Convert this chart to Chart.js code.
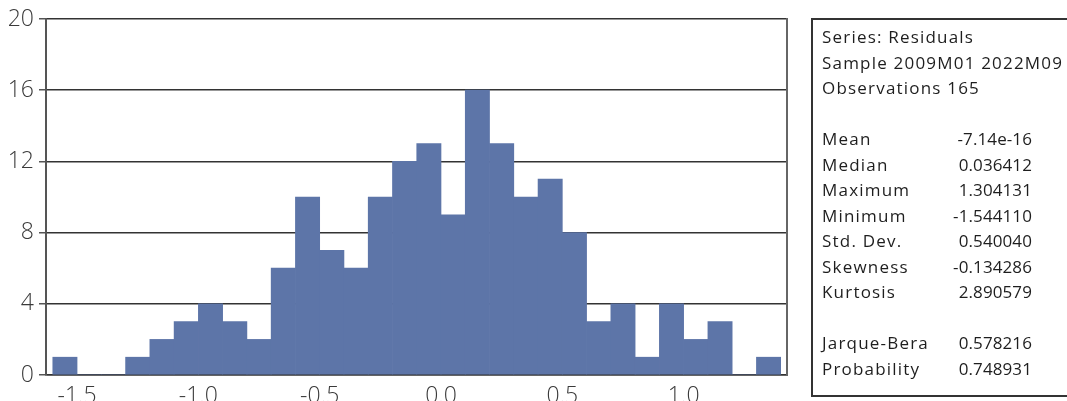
<!DOCTYPE html>
<html>
<head>
<meta charset="utf-8">
<title>Residuals histogram</title>
<script src="https://cdn.jsdelivr.net/npm/chart.js@4.4.1/dist/chart.umd.min.js"></script>
<style>
  html, body { margin: 0; padding: 0; background: #fff; }
  #wrap { position: relative; width: 1067px; height: 401px; overflow: hidden; }
  #hist { position: absolute; left: 0; top: 0; }
  #statsBox {
    position: absolute; left: 811px; top: 18px; width: 300px; height: 379px;
    box-sizing: border-box; border: 2px solid #333;
  }
  .lbl, .val {
    position: absolute; height: 20px; line-height: 20px; white-space: nowrap;
    font-family: 'Open Sans', 'DejaVu Sans', sans-serif; font-size: 17px; color: #1e1e1e;
  }
  .lbl { left: 822px; letter-spacing: 1.2px; }
  .val { right: 35px; text-align: right; letter-spacing: 0.1px; }
</style>
</head>
<body>
<div id="wrap">
  <canvas id="hist" width="1067" height="401"></canvas>
  <div id="statsBox"></div>
</div>
<script>
// Bin centres (bin width 0.1) and observation counts per bin
const binCenters = [-1.55, -1.45, -1.35, -1.25, -1.15, -1.05, -0.95, -0.85, -0.75, -0.65,
                    -0.55, -0.45, -0.35, -0.25, -0.15, -0.05, 0.05, 0.15, 0.25, 0.35,
                    0.45, 0.55, 0.65, 0.75, 0.85, 0.95, 1.05, 1.15, 1.25, 1.35];
const counts = [1, 0, 0, 1, 2, 3, 4, 3, 2, 6,
                10, 7, 6, 10, 12, 13, 9, 16, 13, 10,
                11, 8, 3, 4, 1, 4, 2, 3, 0, 1];

// Axis ticks
const xTickValues = [-1.5, -1.0, -0.5, 0.0, 0.5, 1.0];
const xTickLabels = ['-1.5', '-1.0', '-0.5', '0.0', '0.5', '1.0'];
const yTickValues = [0, 4, 8, 12, 16, 20];
const yTickLabels = ['0', '4', '8', '12', '16', '20'];

// Descriptive statistics panel
const headerLines = ['Series: Residuals', 'Sample 2009M01 2022M09', 'Observations 165'];
const statNames = ['Mean', 'Median', 'Maximum', 'Minimum', 'Std. Dev.', 'Skewness', 'Kurtosis'];
const statValues = ['-7.14e-16', '0.036412', '1.304131', '-1.544110', '0.540040', '-0.134286', '2.890579'];
const testNames = ['Jarque-Bera', 'Probability'];
const testValues = ['0.578216', '0.748931'];

// Build the statistics text rows
(function buildStats() {
  const wrap = document.getElementById('wrap');
  const firstCenter = 37, step = 25.5;
  const rows = [];
  headerLines.forEach((t, i) => rows.push({ row: i, name: t }));
  statNames.forEach((t, i) => rows.push({ row: 4 + i, name: t, value: statValues[i] }));
  testNames.forEach((t, i) => rows.push({ row: 12 + i, name: t, value: testValues[i] }));
  rows.forEach(r => {
    const top = (firstCenter + r.row * step - 10) + 'px';
    const a = document.createElement('div');
    a.className = 'lbl'; a.style.top = top; a.textContent = r.name;
    wrap.appendChild(a);
    if (r.value !== undefined) {
      const b = document.createElement('div');
      b.className = 'val'; b.style.top = top; b.textContent = r.value;
      wrap.appendChild(b);
    }
  });
})();

// Right-hand frame line of the plot area
const frameLine = {
  id: 'frameLine',
  afterDraw(chart) {
    const { ctx, chartArea } = chart;
    ctx.save();
    ctx.strokeStyle = '#666';
    ctx.lineWidth = 2;
    ctx.beginPath();
    ctx.moveTo(chartArea.right, chartArea.top - 1);
    ctx.lineTo(chartArea.right, chartArea.bottom + 1);
    ctx.stroke();
    ctx.restore();
  }
};

const tickFont = { family: "'Open Sans', 'DejaVu Sans', sans-serif", size: 23, weight: 300 };

new Chart(document.getElementById('hist'), {
  type: 'bar',
  data: {
    datasets: [{
      data: binCenters.map((x, i) => ({ x: x, y: counts[i] })),
      backgroundColor: '#5d75a8',
      borderWidth: 0,
      barPercentage: 1.0,
      categoryPercentage: 1.0
    }]
  },
  options: {
    responsive: false,
    animation: false,
    layout: { padding: { left: 0, right: 280, top: 19, bottom: 0 } },
    plugins: { legend: { display: false }, tooltip: { enabled: false } },
    scales: {
      x: {
        type: 'linear',
        min: -1.628,
        max: 1.426,
        offset: false,
        afterBuildTicks: s => { s.ticks = xTickValues.map(v => ({ value: v })); },
        afterFit: s => { s.height = 26; },
        ticks: {
          callback: v => xTickLabels[xTickValues.indexOf(v)],
          font: tickFont, color: '#3a3a3a', padding: 8,
          maxRotation: 0, autoSkip: false
        },
        grid: { display: false, drawTicks: false },
        border: { display: true, color: '#333', width: 1.5 }
      },
      y: {
        min: 0,
        max: 20,
        afterBuildTicks: s => { s.ticks = yTickValues.map(v => ({ value: v })); },
        afterFit: s => { s.width = 46; },
        ticks: {
          callback: v => yTickLabels[yTickValues.indexOf(v)],
          font: tickFont, color: '#3a3a3a', padding: 5
        },
        grid: { color: '#333', lineWidth: 1.5, tickLength: 7, tickColor: '#555' },
        border: { display: true, color: '#555', width: 2 }
      }
    }
  },
  plugins: [frameLine]
});
</script>
</body>
</html>
